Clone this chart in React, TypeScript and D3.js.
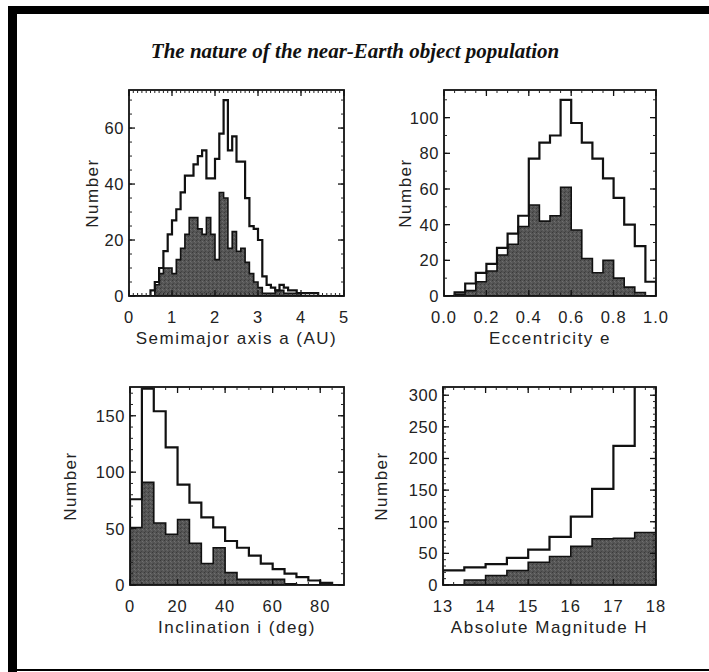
import React from "react";
import * as d3 from "d3";

// Histogram counts: total known NEOs (outline) and the subsample (shaded)
const aLo = 0, aWidth = 0.1;
const aTotal = [0, 0, 0, 0, 0, 2, 5, 10, 16, 22, 27, 31, 37, 43, 43, 47, 50, 52, 42, 42, 49, 58, 70, 52, 57, 48, 48, 35, 25, 24, 20, 7, 4, 3, 2, 4, 3, 2, 2, 1, 1, 1, 1, 1, 0, 0, 0, 0, 0, 0];
const aSample = [0, 0, 0, 0, 0, 0, 4, 8, 10, 10, 8, 13, 17, 22, 28, 28, 24, 22, 28, 22, 13, 37, 35, 17, 23, 16, 17, 12, 8, 5, 3, 1, 1, 1, 2, 2, 1, 1, 1, 1, 0, 0, 0, 0, 0, 0, 0, 0, 0, 0];

const eLo = 0, eWidth = 0.05;
const eTotal = [0, 2, 7, 13, 18, 27, 35, 45, 77, 86, 90, 110, 97, 86, 77, 66, 55, 40, 28, 8];
const eSample = [0, 1, 3, 8, 14, 23, 29, 39, 51, 42, 45, 61, 37, 21, 13, 20, 10, 5, 2, 0];

const iLo = 0, iWidth = 5;
const iTotal = [76, 174, 154, 122, 89, 73, 60, 51, 39, 33, 26, 19, 14, 10, 7, 4, 2, 0];
const iSample = [51, 91, 55, 45, 58, 37, 19, 33, 11, 5, 5, 5, 5, 1, 0, 0, 2, 0];

const hLo = 13, hWidth = 0.5;
const hTotal = [23, 28, 33, 43, 56, 76, 108, 152, 220, 420];
const hSample = [0, 8, 15, 23, 36, 45, 61, 73, 74, 83];

// Axis ticks
const aXTicks = [0, 1, 2, 3, 4, 5];
const aYTicks = [0, 20, 40, 60];
const eXTicks = [0, 0.2, 0.4, 0.6, 0.8, 1.0];
const eYTicks = [0, 20, 40, 60, 80, 100];
const iXTicks = [0, 20, 40, 60, 80];
const iYTicks = [0, 50, 100, 150];
const hXTicks = [13, 14, 15, 16, 17, 18];
const hYTicks = [0, 50, 100, 150, 200, 250, 300];

const TITLE = "The nature of the near-Earth object population";

const SANS = "'Liberation Sans', Arial, sans-serif";
const SERIF = "'Liberation Serif', 'Times New Roman', serif";

type PanelProps = {
  id: string;
  left: number;
  right: number;
  top: number;
  bottom: number;
  xDomain: [number, number];
  yDomain: [number, number];
  lo: number;
  width: number;
  total: number[];
  sample: number[];
  xTicks: number[];
  yTicks: number[];
  xMinor: number;
  yMinor: number;
  xFormat: (v: number) => string;
  xLabel: string;
  yLabelX: number;
};

function stepPath(
  counts: number[],
  lo: number,
  w: number,
  x: d3.ScaleLinear<number, number>,
  y: d3.ScaleLinear<number, number>
): string {
  const p = d3.path();
  p.moveTo(x(lo), y(0));
  counts.forEach((c, k) => {
    p.lineTo(x(lo + k * w), y(c));
    p.lineTo(x(lo + (k + 1) * w), y(c));
  });
  p.lineTo(x(lo + counts.length * w), y(0));
  return p.toString();
}

function Panel(props: PanelProps) {
  const {
    id, left, right, top, bottom, xDomain, yDomain, lo, width,
    total, sample, xTicks, yTicks, xMinor, yMinor, xFormat, xLabel, yLabelX,
  } = props;
  const x = d3.scaleLinear().domain(xDomain).range([left, right]);
  const y = d3.scaleLinear().domain(yDomain).range([bottom, top]);

  const xMinorTicks = d3.range(xDomain[0], xDomain[1] + 1e-9, xMinor);
  const yMinorTicks = d3.range(yDomain[0], yDomain[1] + 1e-9, yMinor);
  const major = 6;
  const minor = 3;

  return (
    <g>
      <defs>
        <clipPath id={`clip-${id}`}>
          <rect x={left} y={top} width={right - left} height={bottom - top} />
        </clipPath>
      </defs>
      <g clipPath={`url(#clip-${id})`}>
        <path
          d={stepPath(sample, lo, width, x, y)}
          fill="url(#grain)"
          stroke="#111"
          strokeWidth={1.6}
          strokeLinejoin="miter"
        />
        <path
          d={stepPath(total, lo, width, x, y)}
          fill="none"
          stroke="#111"
          strokeWidth={2.2}
          strokeLinejoin="miter"
        />
      </g>
      <rect
        x={left}
        y={top}
        width={right - left}
        height={bottom - top}
        fill="none"
        stroke="#111"
        strokeWidth={1.8}
      />
      {/* minor ticks on all four sides */}
      {xMinorTicks.map((v, k) => (
        <g key={`xm${k}`} stroke="#222" strokeWidth={1}>
          <line x1={x(v)} x2={x(v)} y1={bottom} y2={bottom - minor} />
          <line x1={x(v)} x2={x(v)} y1={top} y2={top + minor} />
        </g>
      ))}
      {yMinorTicks.map((v, k) => (
        <g key={`ym${k}`} stroke="#222" strokeWidth={1}>
          <line x1={left} x2={left + minor} y1={y(v)} y2={y(v)} />
          <line x1={right} x2={right - minor} y1={y(v)} y2={y(v)} />
        </g>
      ))}
      {xTicks.map((v, k) => (
        <g key={`xt${k}`}>
          <line x1={x(v)} x2={x(v)} y1={bottom} y2={bottom - major} stroke="#111" strokeWidth={1.3} />
          <line x1={x(v)} x2={x(v)} y1={top} y2={top + major} stroke="#111" strokeWidth={1.3} />
          <text
            x={x(v)}
            y={bottom + 27}
            textAnchor="middle"
            fontFamily={SANS}
            fontSize={16.5}
            letterSpacing={1}
            fill="#222"
          >
            {xFormat(v)}
          </text>
        </g>
      ))}
      {yTicks.map((v, k) => (
        <g key={`yt${k}`}>
          <line x1={left} x2={left + major} y1={y(v)} y2={y(v)} stroke="#111" strokeWidth={1.3} />
          <line x1={right} x2={right - major} y1={y(v)} y2={y(v)} stroke="#111" strokeWidth={1.3} />
          <text
            x={left - 5}
            y={y(v)}
            dy="0.36em"
            textAnchor="end"
            fontFamily={SANS}
            fontSize={16.5}
            letterSpacing={0.6}
            fill="#222"
          >
            {v}
          </text>
        </g>
      ))}
      <text
        x={(left + right) / 2}
        y={bottom + 48}
        textAnchor="middle"
        fontFamily={SANS}
        fontSize={17}
        letterSpacing={1.5}
        fill="#222"
      >
        {xLabel}
      </text>
      <text
        transform={`translate(${yLabelX},${(top + bottom) / 2}) rotate(-90)`}
        textAnchor="middle"
        dy="0.35em"
        fontFamily={SANS}
        fontSize={17}
        letterSpacing={1.5}
        fill="#222"
      >
        Number
      </text>
    </g>
  );
}

export default function App() {
  return (
    <svg
      width={709}
      height={672}
      viewBox="0 0 709 672"
      style={{ position: "absolute", left: 0, top: 0, display: "block", background: "#fff" }}
    >
      <defs>
        <pattern id="grain" width={4} height={4} patternUnits="userSpaceOnUse">
          <rect width={4} height={4} fill="#555" />
          <rect x={0} y={0} width={1} height={1} fill="#3a3a3a" />
          <rect x={2} y={1} width={1} height={1} fill="#707070" />
          <rect x={1} y={3} width={1} height={1} fill="#444" />
          <rect x={3} y={2} width={1} height={1} fill="#666" />
        </pattern>
      </defs>
      <rect width={709} height={672} fill="#fff" />
      {/* page frame */}
      <rect x={8} y={6} width={701} height={8} fill="#000" />
      <rect x={8} y={6} width={9} height={666} fill="#000" />
      <rect x={8} y={669} width={701} height={2} fill="#000" />

      <text
        x={355}
        y={58}
        textAnchor="middle"
        fontFamily={SERIF}
        fontStyle="italic"
        fontWeight="bold"
        fontSize={21}
        fill="#111"
      >
        {TITLE}
      </text>

      <Panel
        id="a"
        left={129}
        right={344}
        top={90}
        bottom={296}
        xDomain={[0, 5]}
        yDomain={[0, 73.6]}
        lo={aLo}
        width={aWidth}
        total={aTotal}
        sample={aSample}
        xTicks={aXTicks}
        yTicks={aYTicks}
        xMinor={0.1}
        yMinor={5}
        xFormat={(v) => d3.format("d")(v)}
        xLabel="Semimajor axis a (AU)"
        yLabelX={92}
      />
      <Panel
        id="e"
        left={444}
        right={656}
        top={90}
        bottom={296}
        xDomain={[0, 1]}
        yDomain={[0, 115.5]}
        lo={eLo}
        width={eWidth}
        total={eTotal}
        sample={eSample}
        xTicks={eXTicks}
        yTicks={eYTicks}
        xMinor={0.05}
        yMinor={10}
        xFormat={(v) => d3.format(".1f")(v)}
        xLabel="Eccentricity e"
        yLabelX={405}
      />
      <Panel
        id="i"
        left={130}
        right={344}
        top={387}
        bottom={585}
        xDomain={[0, 90]}
        yDomain={[0, 175.5]}
        lo={iLo}
        width={iWidth}
        total={iTotal}
        sample={iSample}
        xTicks={iXTicks}
        yTicks={iYTicks}
        xMinor={5}
        yMinor={10}
        xFormat={(v) => d3.format("d")(v)}
        xLabel="Inclination i (deg)"
        yLabelX={70}
      />
      <Panel
        id="h"
        left={443}
        right={656}
        top={387}
        bottom={585}
        xDomain={[13, 18]}
        yDomain={[0, 313]}
        lo={hLo}
        width={hWidth}
        total={hTotal}
        sample={hSample}
        xTicks={hXTicks}
        yTicks={hYTicks}
        xMinor={0.25}
        yMinor={10}
        xFormat={(v) => d3.format("d")(v)}
        xLabel="Absolute Magnitude H"
        yLabelX={381}
      />
    </svg>
  );
}
